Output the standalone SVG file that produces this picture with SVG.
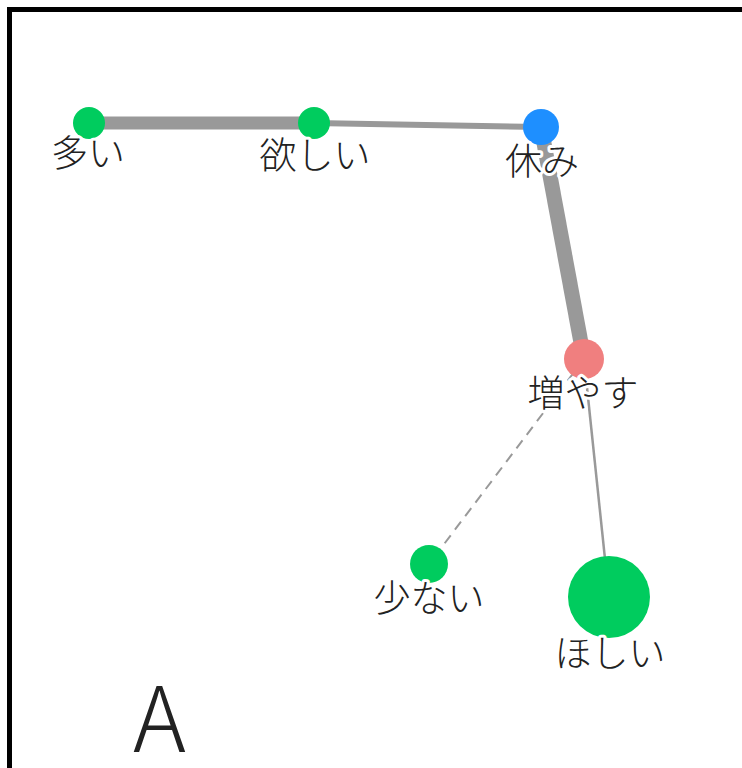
<svg xmlns="http://www.w3.org/2000/svg" width="742" height="768" viewBox="0 0 742 768">
<style>
.lbl{font-family:"Noto Sans CJK JP","Noto Sans",sans-serif;font-size:37px;font-weight:300;fill:#222;text-anchor:middle;stroke:#fff;stroke-width:6px;stroke-linejoin:round;paint-order:stroke}
.edge{stroke:#999;fill:none}
.g{fill:#00cc5e}
</style>
<rect x="0" y="0" width="742" height="768" fill="#fff"/>
<rect x="9.5" y="9.5" width="800" height="800" fill="none" stroke="#000" stroke-width="5"/>
<g id="edges">
<line class="edge" x1="89" y1="123" x2="314" y2="123" stroke-width="13"/>
<line class="edge" x1="314" y1="123" x2="541" y2="127" stroke-width="6"/>
<line class="edge" x1="541" y1="127" x2="584" y2="359" stroke-width="15"/>
<line class="edge" x1="584" y1="359" x2="609" y2="597" stroke-width="2.5"/>
<line class="edge" x1="584" y1="359" x2="429" y2="564" stroke="#aaa" stroke-width="2" stroke-dasharray="10,7"/>
</g>
<g id="n-ooi"><circle class="g" cx="89" cy="123" r="16"/><text class="lbl" x="88" y="167">多い</text></g>
<g id="n-hoshii1"><circle class="g" cx="314" cy="123" r="16"/><text class="lbl" x="315" y="169">欲しい</text></g>
<g id="n-yasumi"><circle cx="541" cy="127" r="18" fill="#1e8fff"/><text class="lbl" x="542" y="175">休み</text></g>
<g id="n-fuyasu"><circle cx="584" cy="359" r="20" fill="#f07f7f"/><text class="lbl" x="583" y="407">増やす</text></g>
<g id="n-sukunai"><circle class="g" cx="429" cy="564" r="19"/><text class="lbl" x="429" y="612">少ない</text></g>
<g id="n-hoshii2"><circle class="g" cx="609" cy="597" r="41"/><text class="lbl" x="610" y="667">ほしい</text></g>
<text x="133" y="752" font-family="Noto Sans CJK JP,Noto Sans,sans-serif" font-size="90" font-weight="300" fill="#222">A</text>
</svg>
